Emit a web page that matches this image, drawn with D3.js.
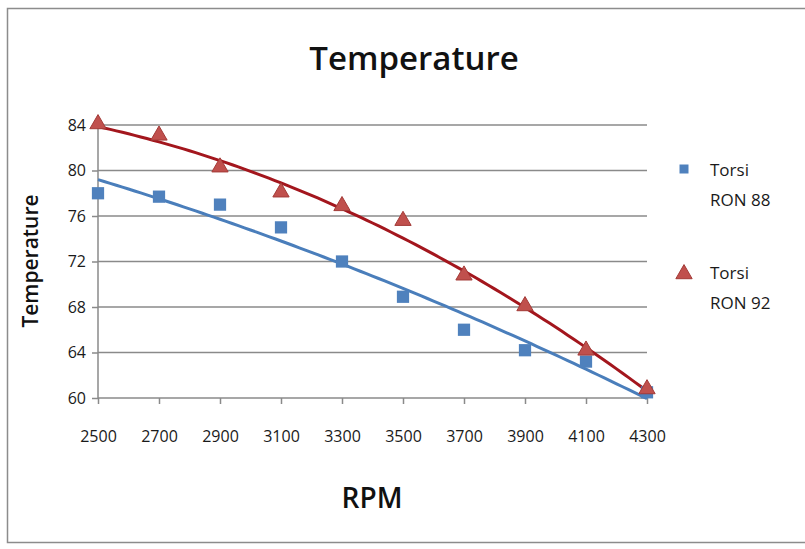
<!DOCTYPE html>
<html>
<head>
<meta charset="utf-8">
<script src="https://cdn.jsdelivr.net/npm/d3@7"></script>
<style>
  body { margin: 0; background: #fff; }
  text { font-family: "Open Sans", "Liberation Sans", sans-serif; }
</style>
</head>
<body>
<svg id="chart" width="805" height="549"></svg>
<script>
// data
const rpm = [2500, 2700, 2900, 3100, 3300, 3500, 3700, 3900, 4100, 4300]
const ron88 = [78.0, 77.7, 77.0, 75.0, 72.0, 68.9, 66.0, 64.2, 63.2, 60.5]
const ron92 = [84.0, 83.0, 80.2, 78.0, 76.8, 75.5, 70.7, 68.0, 64.1, 60.7]
const yTicks = [60, 64, 68, 72, 76, 80, 84]

// least squares 2nd order polynomial, like the Excel trendline
function polyfit2(xs, ys) {
	const n = xs.length
	const u = xs.map(x => (x - 3400) / 1000)
	let s = [0, 0, 0, 0, 0], t = [0, 0, 0]
	for (let i = 0; i < n; i++) {
		for (let k = 0; k < 5; k++) s[k] += Math.pow(u[i], k)
		for (let k = 0; k < 3; k++) t[k] += ys[i] * Math.pow(u[i], k)
	}
	const A = [[s[0], s[1], s[2], t[0]], [s[1], s[2], s[3], t[1]], [s[2], s[3], s[4], t[2]]]
	for (let c = 0; c < 3; c++) {
		for (let r = c + 1; r < 3; r++) {
			const f = A[r][c] / A[c][c]
			for (let k = c; k < 4; k++) A[r][k] -= f * A[c][k]
		}
	}
	const b = [0, 0, 0]
	for (let r = 2; r >= 0; r--) {
		let v = A[r][3]
		for (let k = r + 1; k < 3; k++) v -= A[r][k] * b[k]
		b[r] = v / A[r][r]
	}
	return x => { const w = (x - 3400) / 1000; return b[0] + b[1] * w + b[2] * w * w }
}

const svg = d3.select("#chart")
const plotLeft = 98, plotRight = 647, plotTop = 125, plotBottom = 398

const xScale = d3.scaleLinear().domain([2500, 4300]).range([plotLeft, plotRight])
const yScale = d3.scaleLinear().domain([60, 84]).range([plotBottom, plotTop])

// outer frame
svg.append("rect")
	.attr("x", 7.5).attr("y", 8.5)
	.attr("width", 820).attr("height", 534)
	.attr("fill", "none")
	.attr("stroke", "#8c8c8c")
	.attr("stroke-width", 1.5)

svg.append("text")
	.attr("x", 414).attr("y", 70)
	.attr("text-anchor", "middle")
	.attr("font-size", "33px")
	.attr("font-weight", "600")
	.attr("fill", "#111")
	.text("Temperature")

// gridlines
svg.append("g")
	.selectAll("line")
	.data(yTicks.slice(1))
	.enter().append("line")
	.attr("x1", plotLeft).attr("x2", plotRight)
	.attr("y1", d => yScale(d)).attr("y2", d => yScale(d))
	.attr("stroke", "#8a8a8a")
	.attr("stroke-width", 1.5)

const yAxis = svg.append("g")
	.attr("transform", "translate(" + plotLeft + ",0)")
	.call(d3.axisLeft(yScale).tickValues(yTicks).tickSize(6).tickPadding(6))
const xAxis = svg.append("g")
	.attr("transform", "translate(0," + plotBottom + ")")
	.call(d3.axisBottom(xScale).tickValues(rpm).tickSize(6).tickPadding(27).tickFormat(d3.format("d")))

svg.selectAll(".domain, .tick line")
	.attr("stroke", "#8a8a8a")
	.attr("stroke-width", 1.5)
svg.selectAll(".tick text")
	.attr("font-family", "'Open Sans', sans-serif")
	.attr("font-size", "16px")
	.attr("fill", "#1a1a1a")
xAxis.select(".domain").attr("d", "M" + plotLeft + ",0H" + plotRight)
yAxis.select(".domain").attr("d", "M0," + plotBottom + "V" + plotTop)

svg.append("text")
	.attr("transform", "translate(38,261) rotate(-90)")
	.attr("text-anchor", "middle")
	.attr("font-size", "21px")
	.attr("font-weight", "600")
	.attr("fill", "#111")
	.text("Temperature")

svg.append("text")
	.attr("x", 372).attr("y", 508)
	.attr("text-anchor", "middle")
	.attr("font-size", "28px")
	.attr("font-weight", "600")
	.attr("fill", "#111")
	.text("RPM")

// trendlines
const fit88 = polyfit2(rpm, ron88)
const fit92 = polyfit2(rpm, ron92)
const xs = d3.range(2500, 4301, 20)
const line = f => d3.line().x(d => xScale(d)).y(d => yScale(f(d)))

svg.append("path")
	.attr("d", line(fit88)(xs))
	.attr("fill", "none")
	.attr("stroke", "#4a7ebb")
	.attr("stroke-width", 3)
svg.append("path")
	.attr("d", line(fit92)(xs))
	.attr("fill", "none")
	.attr("stroke", "#a3161d")
	.attr("stroke-width", 3)

// markers
const sq = d3.symbol().type(d3.symbolSquare).size(150)
const tri = d3.symbol().type(d3.symbolTriangle).size(115)

svg.append("g").selectAll("path")
	.data(rpm.map((r, i) => [r, ron88[i]]))
	.enter().append("path")
	.attr("d", sq)
	.attr("transform", d => "translate(" + xScale(d[0]) + "," + yScale(d[1]) + ")")
	.attr("fill", "#4f81bd")

svg.append("g").selectAll("path")
	.data(rpm.map((r, i) => [r, ron92[i]]))
	.enter().append("path")
	.attr("d", tri)
	.attr("transform", d => "translate(" + xScale(d[0]) + "," + (yScale(d[1]) - 1) + ")")
	.attr("fill", "#c0504d")
	.attr("stroke", "#a33a37")
	.attr("stroke-width", 1)

// legend
const legend = svg.append("g")
legend.append("path")
	.attr("d", d3.symbol().type(d3.symbolSquare).size(81))
	.attr("transform", "translate(684,169)")
	.attr("fill", "#4f81bd")
legend.append("path")
	.attr("d", d3.symbol().type(d3.symbolTriangle).size(115))
	.attr("transform", "translate(684,274)")
	.attr("fill", "#c0504d")
	.attr("stroke", "#a33a37")
const legendText = [["Torsi", "RON 88", 176], ["Torsi", "RON 92", 279]]
legendText.forEach(function(t) {
	legend.append("text").attr("x", 710).attr("y", t[2]).attr("font-size", "17px").attr("fill", "#1a1a1a").text(t[0])
	legend.append("text").attr("x", 710).attr("y", t[2] + 30).attr("font-size", "17px").attr("fill", "#1a1a1a").text(t[1])
})
</script>
</body>
</html>
